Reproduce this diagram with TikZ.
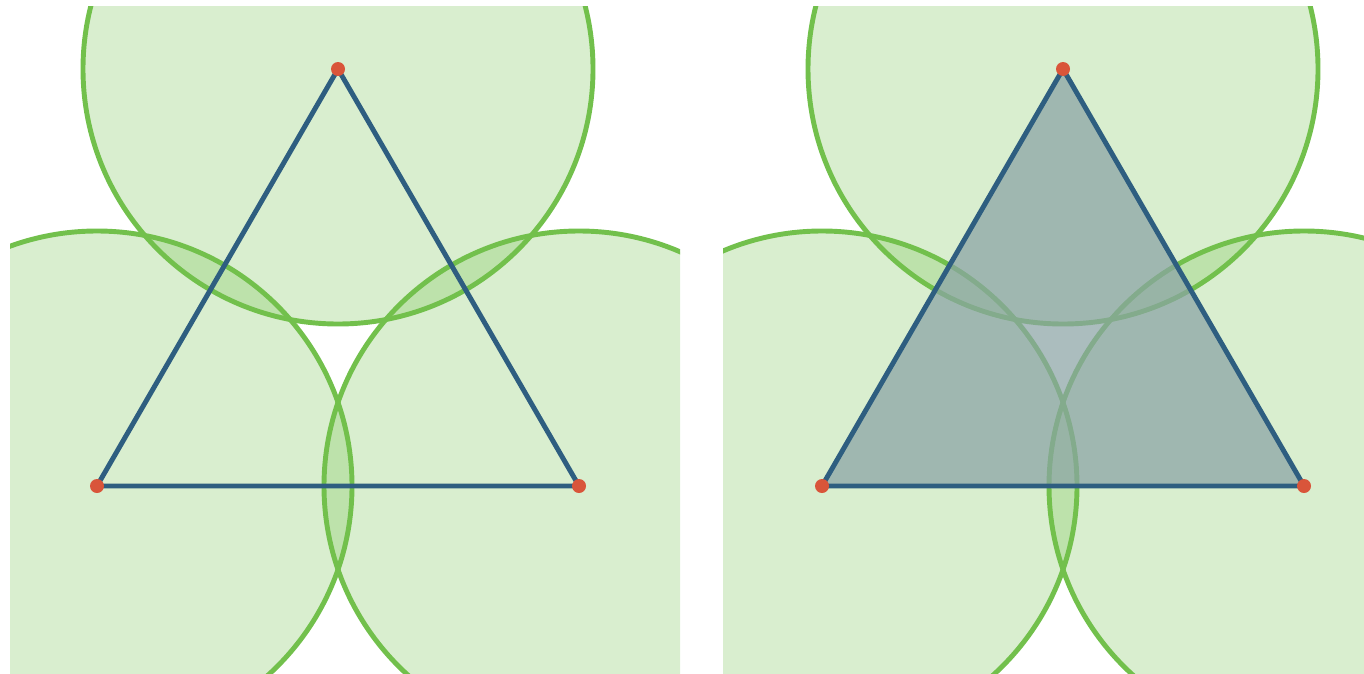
\documentclass[tikz,border=0pt]{standalone}
\usepackage{xcolor}
\usepackage{tikz}
\usetikzlibrary{positioning}

\definecolor{zonegreen}{HTML}{72C04C}
\definecolor{edgeblue}{HTML}{2E5E80}
\definecolor{hullslate}{HTML}{8AA3A5}
\definecolor{vertexred}{HTML}{D9553A}

\begin{document}
\begin{tikzpicture}[x=0.02cm, y=-0.02cm]

\tikzset{
    zonecircle/.style={draw=zonegreen, line width=2.8pt, fill=zonegreen, fill opacity=0.27},
    edgeline/.style={draw=edgeblue, line width=2.8pt, line join=round},
    hullfill/.style={fill=hullslate, fill opacity=0.72},
    vertexdot/.style={circle, fill=vertexred, inner sep=0pt, minimum size=0.28cm}
}

\useasboundingbox (0,0) rectangle (1364,673);

% left panel: disks only
\begin{scope}
    \clip (10,6) rectangle (680,673);
    \coordinate (la) at (338,69);
    \coordinate (lb) at (97,486);
    \coordinate (lc) at (579,486);
    \foreach \v in {la,lb,lc}
        \path [zonecircle] (\v) circle [radius=255];
    \draw [edgeline] (la) -- (lb) -- (lc) -- cycle;
    \node [vertexdot] (dla) at (la) {};
    \node [vertexdot] (dlb) at (lb) {};
    \node [vertexdot] (dlc) at (lc) {};
\end{scope}

% right panel: disks plus filled triangle
\begin{scope}
    \clip (723,6) rectangle (1364,673);
    \coordinate (ra) at (1063,69);
    \coordinate (rb) at (822,486);
    \coordinate (rc) at (1304,486);
    \foreach \v in {ra,rb,rc}
        \path [zonecircle] (\v) circle [radius=255];
    \fill [hullfill] (ra) -- (rb) -- (rc) -- cycle;
    \draw [edgeline] (ra) -- (rb) -- (rc) -- cycle;
    \node [vertexdot] (dra) at (ra) {};
    \node [vertexdot] (drb) at (rb) {};
    \node [vertexdot] (drc) at (rc) {};
\end{scope}

\end{tikzpicture}
\end{document}
